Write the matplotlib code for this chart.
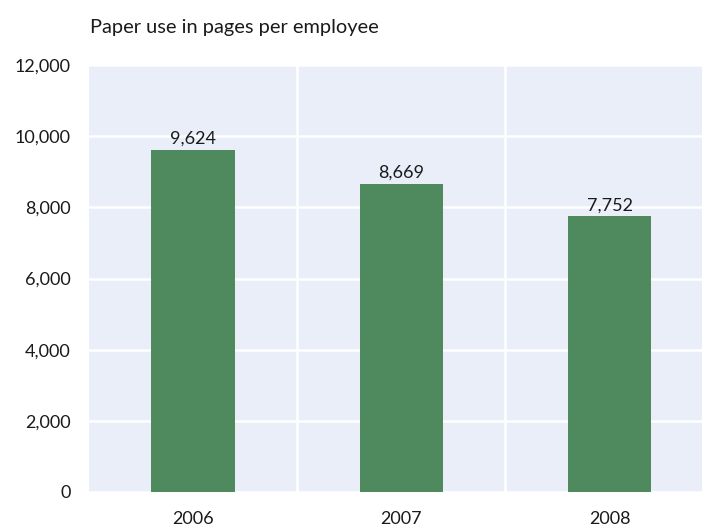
"""
Paper use per employee bar chart.
"""

import matplotlib.pyplot as plt

years = ["2006", "2007", "2008"]
pages = [9624, 8669, 7752]
y_ticks = [0, 2000, 4000, 6000, 8000, 10000, 12000]

plt.rcParams["font.family"] = ["Lato", "DejaVu Sans"]

fig = plt.figure(figsize=(7.02, 5.30), dpi=100)
ax = fig.add_axes([89 / 702, 38 / 530, 613 / 702, 427 / 530])
ax.set_facecolor("#eaeef8")

x = list(range(len(years)))
bars = ax.bar(x, pages, width=0.4, color="#4f8a5f", zorder=3)

for rect, val in zip(bars, pages):
    ax.annotate(
        f"{val:,}",
        (rect.get_x() + rect.get_width() / 2, val),
        textcoords="offset points",
        xytext=(0, 2),
        ha="center",
        va="bottom",
        fontsize=13,
        color="#1a1a1a",
        zorder=4,
    )

# horizontal grid lines
for y in y_ticks:
    ax.axhline(y, color="white", linewidth=1.8, zorder=1)
# vertical separators between categories
for b in [0.5, 1.5]:
    ax.axvline(b, color="white", linewidth=1.8, zorder=1)

ax.set_xlim(-0.5, 2 + 92.5 / 208.5)
ax.set_ylim(0, 12000)
ax.set_xticks(x)
ax.set_xticklabels(years)
ax.set_yticks(y_ticks)
ax.set_yticklabels([f"{v:,}" for v in y_ticks])
ax.tick_params(axis="both", length=0, labelsize=13, colors="#1a1a1a")
ax.tick_params(axis="x", pad=14)
ax.tick_params(axis="y", pad=13)
for s in ax.spines.values():
    s.set_visible(False)

fig.text(90 / 702, 1 - 27 / 530, "Paper use in pages per employee",
         fontsize=14.4, color="#1a1a1a", va="center", ha="left")

fig.savefig("out.png", dpi=100)
